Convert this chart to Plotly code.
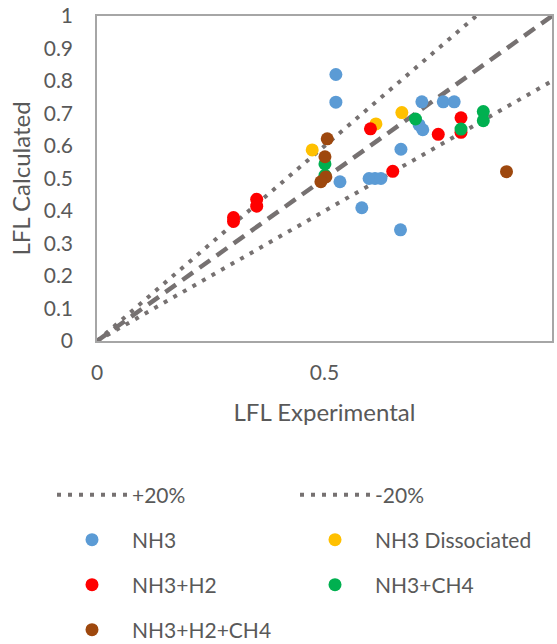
import plotly.graph_objects as go

# ---------------- data ----------------
nh3_x = [0.525, 0.525, 0.534, 0.582, 0.598, 0.611, 0.624, 0.668, 0.667, 0.714, 0.708, 0.716, 0.761, 0.785]
nh3_y = [0.820, 0.735, 0.490, 0.410, 0.500, 0.500, 0.500, 0.590, 0.342, 0.736, 0.665, 0.650, 0.736, 0.736]

diss_x = [0.473, 0.613, 0.670]
diss_y = [0.588, 0.668, 0.703]

h2_x = [0.300, 0.300, 0.351, 0.351, 0.601, 0.650, 0.750, 0.800, 0.800]
h2_y = [0.380, 0.368, 0.436, 0.415, 0.653, 0.522, 0.636, 0.687, 0.642]

ch4_x = [0.501, 0.501, 0.700, 0.800, 0.849, 0.849]
ch4_y = [0.545, 0.510, 0.683, 0.652, 0.706, 0.678]

h2ch4_x = [0.506, 0.501, 0.503, 0.492, 0.900]
h2ch4_y = [0.622, 0.567, 0.505, 0.490, 0.521]

ref_x = [0, 1]
plus_factor = 1.2
minus_factor = 0.8

x_ticks = [0, 0.5, 1]
y_ticks = [0, 0.1, 0.2, 0.3, 0.4, 0.5, 0.6, 0.7, 0.8, 0.9, 1]

# ---------------- styles ----------------
GRAY = "#767171"
TXT = "#595959"
FONT = "Lato"
MS = 13
W, H = 557, 644
L, R, T, B = 97, 5, 16, 303
PW, PH = W - L - R, H - T - B

fig = go.Figure()

fig.add_trace(go.Scatter(x=ref_x, y=[v * plus_factor for v in ref_x], mode="lines", name="+20%",
                         line=dict(color=GRAY, width=4, dash="4px,7px"), legend="legend"))
fig.add_trace(go.Scatter(x=ref_x, y=[v * minus_factor for v in ref_x], mode="lines", name="-20%",
                         line=dict(color=GRAY, width=4, dash="4px,7px"), legend="legend"))
fig.add_trace(go.Scatter(x=ref_x, y=ref_x, mode="lines", name="y=x", showlegend=False,
                         line=dict(color=GRAY, width=4.5, dash="13px,8px")))

fig.add_trace(go.Scatter(x=nh3_x, y=nh3_y, mode="markers", name="NH3",
                         marker=dict(color="#5B9BD5", size=MS), legend="legend2"))
fig.add_trace(go.Scatter(x=diss_x, y=diss_y, mode="markers", name="NH3 Dissociated",
                         marker=dict(color="#FFC000", size=MS), legend="legend2"))
fig.add_trace(go.Scatter(x=h2_x, y=h2_y, mode="markers", name="NH3+H2",
                         marker=dict(color="#FF0000", size=MS), legend="legend3"))
fig.add_trace(go.Scatter(x=ch4_x, y=ch4_y, mode="markers", name="NH3+CH4",
                         marker=dict(color="#00B050", size=MS), legend="legend3"))
fig.add_trace(go.Scatter(x=h2ch4_x, y=h2ch4_y, mode="markers", name="NH3+H2+CH4",
                         marker=dict(color="#9E480E", size=MS), legend="legend4"))

def leg(ypix):
    return dict(orientation="h",
                x=(52 - L) / PW, xanchor="left",
                y=(H - B - ypix) / PH, yanchor="middle",
                itemwidth=70, entrywidth=158, entrywidthmode="pixels",
                font=dict(family=FONT, size=21, color=TXT),
                bgcolor="rgba(0,0,0,0)", traceorder="normal")

fig.update_layout(
    width=W, height=H,
    margin=dict(l=L, r=R, t=T, b=B, autoexpand=False),
    paper_bgcolor="white", plot_bgcolor="white",
    font=dict(family=FONT, size=21, color=TXT),
    showlegend=True,
    legend=leg(495), legend2=leg(540), legend3=leg(585), legend4=leg(630),
    xaxis=dict(range=[0, 1], tickvals=x_ticks, ticktext=[f"{v:g}" for v in x_ticks],
               automargin=False,
               showgrid=False, zeroline=False, showline=True, mirror=True,
               linecolor="#a6a6a6", linewidth=1.5, ticks="", ticklabelstandoff=12,
               tickfont=dict(family=FONT, size=21, color=TXT),
               title=dict(text="LFL Experimental", standoff=21,
                          font=dict(family=FONT, size=24, color=TXT))),
    yaxis=dict(range=[0, 1], tickvals=y_ticks, ticktext=[f"{v:g}" for v in y_ticks],
               automargin=False,
               showgrid=False, zeroline=False, showline=True, mirror=True,
               linecolor="#a6a6a6", linewidth=1.5, ticks="", ticklabelstandoff=18,
               tickfont=dict(family=FONT, size=21, color=TXT),
               title=dict(text="LFL Calculated", standoff=6,
                          font=dict(family=FONT, size=24, color=TXT))),
)

fig.write_html("out.html", config={"displayModeBar": False},
               post_script="document.body.style.margin='0';")
